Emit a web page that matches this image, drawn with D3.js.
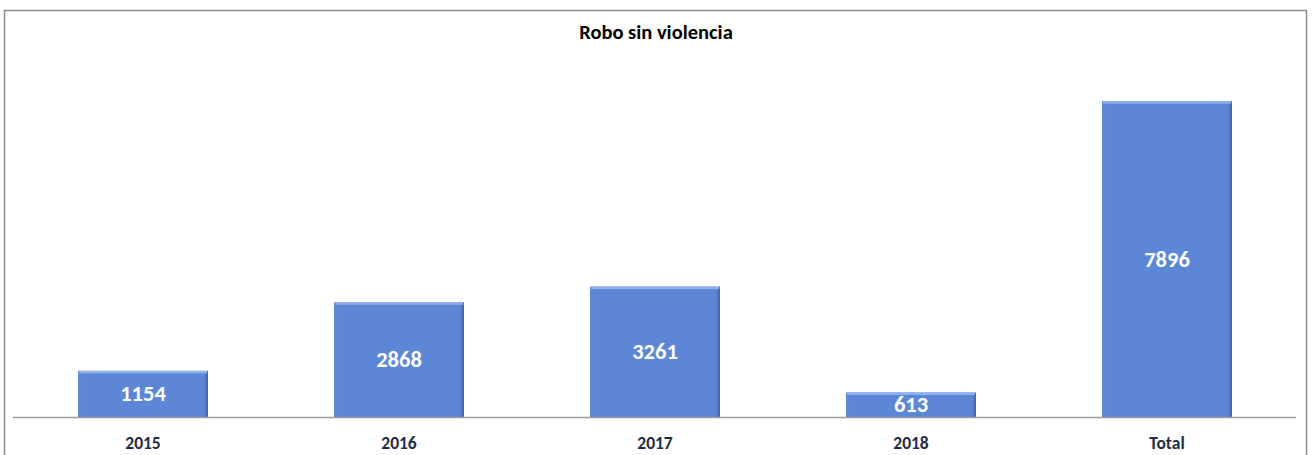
<!DOCTYPE html>
<html><head><meta charset="utf-8">
<script src="https://cdn.jsdelivr.net/npm/d3@7"></script>
<style>body{margin:0;background:#fff}svg{display:block}</style>
</head><body>
<svg id="c" width="1312" height="455"></svg>
<script>
const categories = ["2015", "2016", "2017", "2018", "Total"];
const values = [1154, 2868, 3261, 613, 7896];
const title = "Robo sin violencia";

const svg = d3.select("#c");
const font = "Calibri, Carlito, 'Open Sans', 'Liberation Sans', sans-serif";

// chart border
svg.append("rect").attr("x", 4.5).attr("y", 10.5).attr("width", 1302).attr("height", 470)
  .attr("fill", "none").attr("stroke", "#8c8c8c").attr("stroke-width", 1.5);

const x = d3.scaleBand().domain(categories).range([15, 1295]).paddingInner(0.492).paddingOuter(0.246);
const y = d3.scaleLinear().domain([0, 9000]).range([417, 57]);

const defs = svg.append("defs");
const g = defs.append("linearGradient").attr("id", "bg").attr("x1", 0).attr("x2", 1).attr("y1", 0).attr("y2", 0);
g.append("stop").attr("offset", "0%").attr("stop-color", "#5f8ad8");
g.append("stop").attr("offset", "3%").attr("stop-color", "#5b87d6");
g.append("stop").attr("offset", "97%").attr("stop-color", "#5b87d6");
g.append("stop").attr("offset", "100%").attr("stop-color", "#3f63a3");

const bars = svg.append("g").selectAll("g").data(categories).join("g");
bars.append("rect")
  .attr("x", d => x(d)).attr("width", x.bandwidth())
  .attr("y", (d, i) => y(values[i])).attr("height", (d, i) => y(0) - y(values[i]))
  .attr("fill", "url(#bg)");
bars.append("rect")
  .attr("x", d => x(d) + 1).attr("width", x.bandwidth() - 2)
  .attr("y", (d, i) => y(values[i])).attr("height", 2.5)
  .attr("fill", "#8fb0ea");

// axis line
svg.append("line").attr("x1", 13).attr("x2", 1296).attr("y1", 417.5).attr("y2", 417.5)
  .attr("stroke", "#9a9a9a").attr("stroke-width", 1.5);

// value labels
svg.append("g").selectAll("text").data(categories).join("text")
  .attr("x", d => x(d) + x.bandwidth() / 2)
  .attr("y", (d, i) => (y(values[i]) + y(0)) / 2)
  .attr("dy", "0.33em")
  .attr("text-anchor", "middle")
  .attr("fill", "#fff").attr("font-family", font).attr("font-weight", "bold").attr("font-size", 22.5)
  .text((d, i) => values[i]);

// category labels
const xAxis = svg.append("g").attr("transform", "translate(0,417)")
  .call(d3.axisBottom(x).tickSize(0).tickPadding(20));
xAxis.select(".domain").remove();
xAxis.selectAll("text").attr("fill", "#1f2d44").attr("font-family", font)
  .attr("font-weight", "bold").attr("font-size", 17.5);

svg.append("text").attr("x", 656).attr("y", 32).attr("dy", "0.36em").attr("text-anchor", "middle")
  .attr("font-family", font).attr("font-weight", "bold").attr("font-size", 20.5).attr("fill", "#000")
  .text(title);
</script>
</body></html>
